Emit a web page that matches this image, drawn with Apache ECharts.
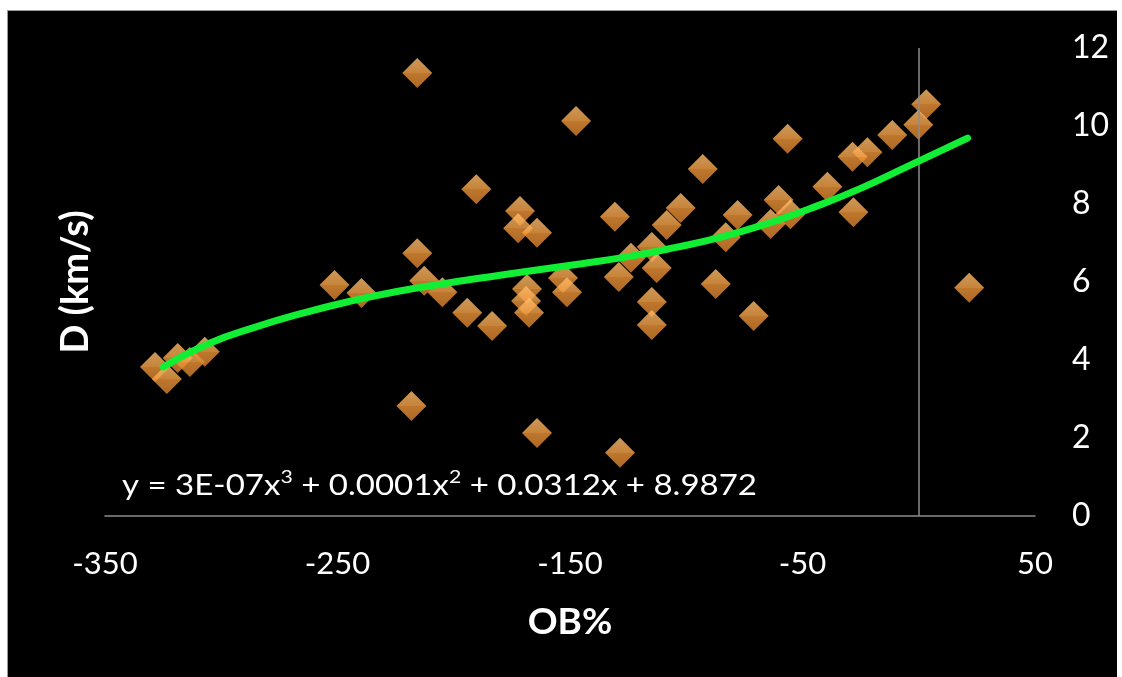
<!DOCTYPE html>
<html>
<head>
<meta charset="utf-8">
<script src="https://cdn.jsdelivr.net/npm/echarts@6/dist/echarts.min.js"></script>
<style>
  html, body { margin: 0; padding: 0; background: #ffffff; width: 1122px; height: 677px; overflow: hidden; }
  #bg { position: absolute; left: 7px; top: 10px; width: 1109px; height: 667px; background: #000; border-top: 1px solid #9a9a9a; border-left: 1px solid #9a9a9a; }
  #chart { position: absolute; left: 0; top: 0; width: 1122px; height: 677px; }
</style>
</head>
<body>
<div id="bg"></div>
<div id="chart"></div>
<script>
// Observed points: OB% (x) and D in km/s (y)
const obPct = [-215.7, -147.4, 3.2, -0.2, -11.4, -22.1, -28.5, -56.4, -92.9, -190.3,
  -39.3, -60.3, -55.2, -28.1, -63.7, -77.9, -83.0, -102.4, -108.4, -130.7,
  -114.8, -123.8, -112.7, -129.0, -114.8, -114.8, -87.3, -71.0, -171.5, -172.3,
  -164.2, -153.0, -151.3, -168.5, -168.9, -167.6, -183.5, -194.2, -204.9, -212.7,
  -215.7, -239.7, -251.3, -218.2, -164.2, -128.5, 21.7, -328.5, -323.4, -318.7,
  -313.5, -307.1];
const dVel = [11.36, 10.13, 10.56, 10.03, 9.77, 9.33, 9.21, 9.67, 8.90, 8.38,
  8.44, 8.10, 7.74, 7.79, 7.49, 7.72, 7.15, 7.90, 7.46, 7.67,
  6.90, 6.62, 6.36, 6.13, 5.49, 4.90, 5.95, 5.13, 7.82, 7.38,
  7.26, 6.10, 5.74, 5.82, 5.51, 5.21, 4.87, 5.21, 5.74, 6.03,
  6.74, 5.72, 5.92, 2.82, 2.13, 1.62, 5.85, 3.82, 3.51, 4.05,
  3.95, 4.21];

// Polynomial trend line
const trendX = [-325, -305, -285, -265, -245, -225, -205, -185, -165, -145, -125, -105, -85, -65, -45, -25, -5, 21];
const trendY = [3.82, 4.43, 4.85, 5.2, 5.5, 5.75, 5.95, 6.13, 6.3, 6.47, 6.65, 6.88, 7.15, 7.5, 7.92, 8.4, 8.96, 9.69];

const xTicks = { min: -350, max: 50, interval: 100 };
const yTicks = { min: 0, max: 12, interval: 2 };
const equationParts = ['y = 3E-07x', '3', ' + 0.0001x', '2', ' + 0.0312x + 8.9872'];
const xTitle = 'OB%';
const yTitle = 'D (km/s)';

const scatterData = obPct.map((x, i) => [x, dVel[i]]);
const trendData = trendX.map((x, i) => [x, trendY[i]]);

const FONT = 'Lato, "Open Sans", sans-serif';
const eqRich = equationParts.map((p, i) => (i % 2 ? '{s|' + p + '}' : '{n|' + p + '}')).join('');

const chart = echarts.init(document.getElementById('chart'), null, { renderer: 'canvas' });

chart.setOption({
  backgroundColor: 'transparent',
  animation: false,
  grid: { left: 105, right: 87, top: 48, bottom: 161, containLabel: false, outerBoundsMode: 'none' },
  xAxis: {
    type: 'value', min: xTicks.min, max: xTicks.max, interval: xTicks.interval,
    axisLine: { show: true, onZero: true, lineStyle: { color: '#8c8c8c', width: 1.5 } },
    axisTick: { show: false },
    splitLine: { show: false },
    axisLabel: { color: '#ffffff', fontSize: 31, fontFamily: FONT, margin: 32 },
    name: xTitle, nameLocation: 'middle', nameGap: 88,
    nameTextStyle: { color: '#ffffff', fontSize: 37, fontWeight: 'bold', fontFamily: FONT }
  },
  yAxis: [{
    type: 'value', min: yTicks.min, max: yTicks.max, interval: yTicks.interval,
    position: 'right',
    axisLine: { show: false },
    axisTick: { show: false },
    splitLine: { show: false },
    axisLabel: { color: '#ffffff', fontSize: 32, fontFamily: FONT, margin: 37, align: 'left' }
  }, {
    type: 'value', min: yTicks.min, max: yTicks.max, interval: yTicks.interval,
    position: 'left',
    axisLine: { show: false }, axisTick: { show: false }, splitLine: { show: false },
    axisLabel: { show: false },
    name: yTitle, nameLocation: 'middle', nameGap: 10,
    nameTextStyle: { color: '#ffffff', fontSize: 38, fontWeight: 'bold', fontFamily: FONT }
  }],
  graphic: [{
    type: 'text', x: 122, y: 468, scaleX: 1.18, z: 100,
    style: {
      text: eqRich, fill: '#ffffff', verticalAlign: 'top', align: 'left',
      rich: {
        n: { fontSize: 28, fontFamily: FONT, fill: '#ffffff', color: '#ffffff', lineHeight: 32, verticalAlign: 'bottom' },
        s: { fontSize: 18, fontFamily: FONT, fill: '#ffffff', color: '#ffffff', lineHeight: 20, verticalAlign: 'top' }
      }
    }
  }],
  series: [{
    type: 'scatter',
    data: scatterData,
    symbol: 'diamond',
    symbolSize: 30,
    z: 3,
    itemStyle: {
      color: new echarts.graphic.LinearGradient(0, 0, 0, 1, [
        { offset: 0, color: '#ffc072' },
        { offset: 0.5, color: '#f9a448' },
        { offset: 0.5, color: '#ef9538' },
        { offset: 1, color: '#d8822e' }
      ])
    },
    markLine: {
      silent: true, symbol: 'none', animation: false,
      label: { show: false },
      lineStyle: { color: '#8c8c8c', width: 1.5, type: 'solid' },
      data: [{ xAxis: 0 }]
    }
  }, {
    type: 'line',
    data: trendData,
    smooth: true,
    showSymbol: false,
    z: 5,
    lineStyle: { color: '#11ee33', width: 7, cap: 'round' }
  }]
});
</script>
</body>
</html>
